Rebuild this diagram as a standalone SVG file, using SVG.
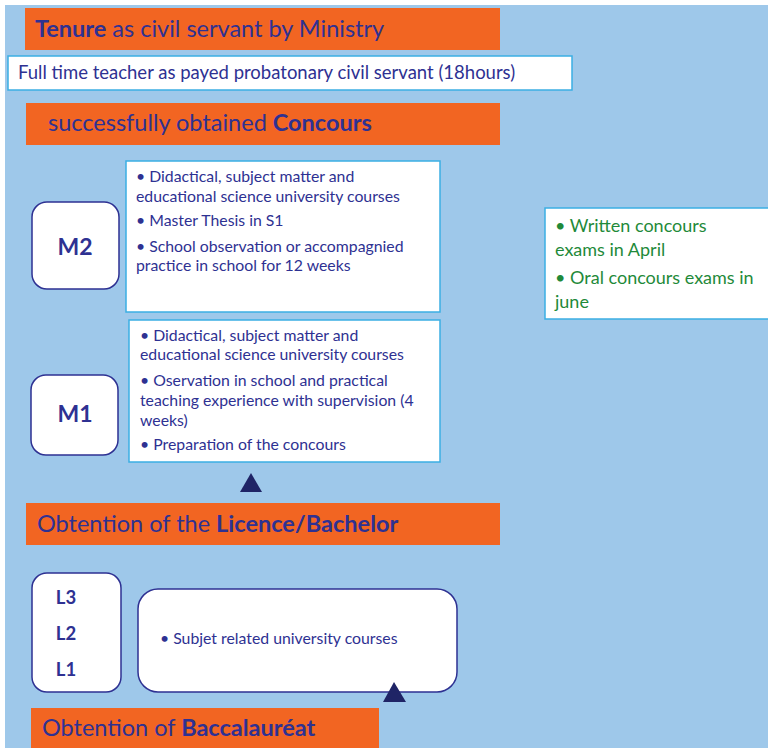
<svg xmlns="http://www.w3.org/2000/svg" width="768" height="748" viewBox="0 0 768 748">
<style>
text{font-family:Lato,"Open Sans","Liberation Sans",sans-serif;fill:#2E3192}
.b{font-weight:bold}
.or{fill:#F26522}
.wb{fill:#fff;stroke:#3BAEE3;stroke-width:1.5}
.rb{fill:#fff;stroke:#2E3192;stroke-width:1.5}
.h{font-size:23.5px}
.t{font-size:15.8px}
.g{fill:#1F8A3A;font-size:18px}
.l{font-weight:bold;font-size:18.5px}
.tri{fill:#1F2466}
</style>
<rect x="0" y="0" width="768" height="748" fill="#fff"/>
<rect x="5" y="5" width="763" height="743" fill="#9EC8EA"/>
<g id="tenure">
<rect class="or" x="25" y="8" width="475" height="42"/>
<text class="h" x="35" y="37"><tspan class="b">Tenure</tspan> as civil servant by Ministry</text>
</g>
<g id="fulltime">
<rect class="wb" x="8" y="56" width="564" height="34"/>
<text x="18" y="79" font-size="18.5">Full time teacher as payed probatonary civil servant (18hours)</text>
</g>
<g id="concours">
<rect class="or" x="26" y="103" width="474" height="42"/>
<text class="h" x="48" y="131">successfully obtained <tspan class="b">Concours</tspan></text>
</g>
<g id="m2">
<rect class="rb" x="32" y="202" width="87" height="87" rx="15"/>
<text class="b" x="75" y="255" font-size="23" text-anchor="middle">M2</text>
</g>
<g id="m2content">
<rect class="wb" x="126" y="161" width="314" height="151"/>
<text class="t" x="136" y="182">• Didactical, subject matter and</text>
<text class="t" x="136" y="202">educational science university courses</text>
<text class="t" x="136" y="226">• Master Thesis in S1</text>
<text class="t" x="136" y="252">• School observation or accompagnied</text>
<text class="t" x="136" y="271">practice in school for 12 weeks</text>
</g>
<g id="m1">
<rect class="rb" x="31" y="375" width="87" height="80" rx="15"/>
<text class="b" x="75" y="422" font-size="23" text-anchor="middle">M1</text>
</g>
<g id="m1content">
<rect class="wb" x="129" y="320" width="311" height="142"/>
<text class="t" x="140" y="341">• Didactical, subject matter and</text>
<text class="t" x="140" y="360">educational science university courses</text>
<text class="t" x="140" y="386">• Oservation in school and practical</text>
<text class="t" x="140" y="406">teaching experience with supervision (4</text>
<text class="t" x="140" y="426">weeks)</text>
<text class="t" x="140" y="450">• Preparation of the concours</text>
</g>
<g id="exams">
<rect class="wb" x="545" y="208" width="226" height="111"/>
<text class="g" x="555" y="232">• Written concours</text>
<text class="g" x="555" y="256">exams in April</text>
<text class="g" x="555" y="284">• Oral concours exams in</text>
<text class="g" x="555" y="308">june</text>
</g>
<g id="licence">
<rect class="or" x="26" y="503" width="474" height="42"/>
<text x="37" y="532" font-size="23.5">Obtention of the <tspan class="b">Licence/Bachelor</tspan></text>
</g>
<g id="l123">
<rect class="rb" x="32" y="573" width="89" height="119" rx="15"/>
<text class="l" x="66" y="604" text-anchor="middle">L3</text>
<text class="l" x="66" y="640" text-anchor="middle">L2</text>
<text class="l" x="66" y="676" text-anchor="middle">L1</text>
</g>
<g id="lcontent">
<rect class="rb" x="138" y="589" width="319" height="103" rx="20"/>
<text class="t" x="160" y="644">• Subjet related university courses</text>
</g>
<g id="bacc">
<rect class="or" x="31" y="708" width="348" height="40"/>
<text x="42" y="736" font-size="23.5">Obtention of <tspan class="b">Baccalauréat</tspan></text>
</g>
<g id="connectors">
<polygon class="tri" points="251,473 240,492 262,492"/>
<polygon class="tri" points="394,682 383,702 406,702"/>
</g>
</svg>
